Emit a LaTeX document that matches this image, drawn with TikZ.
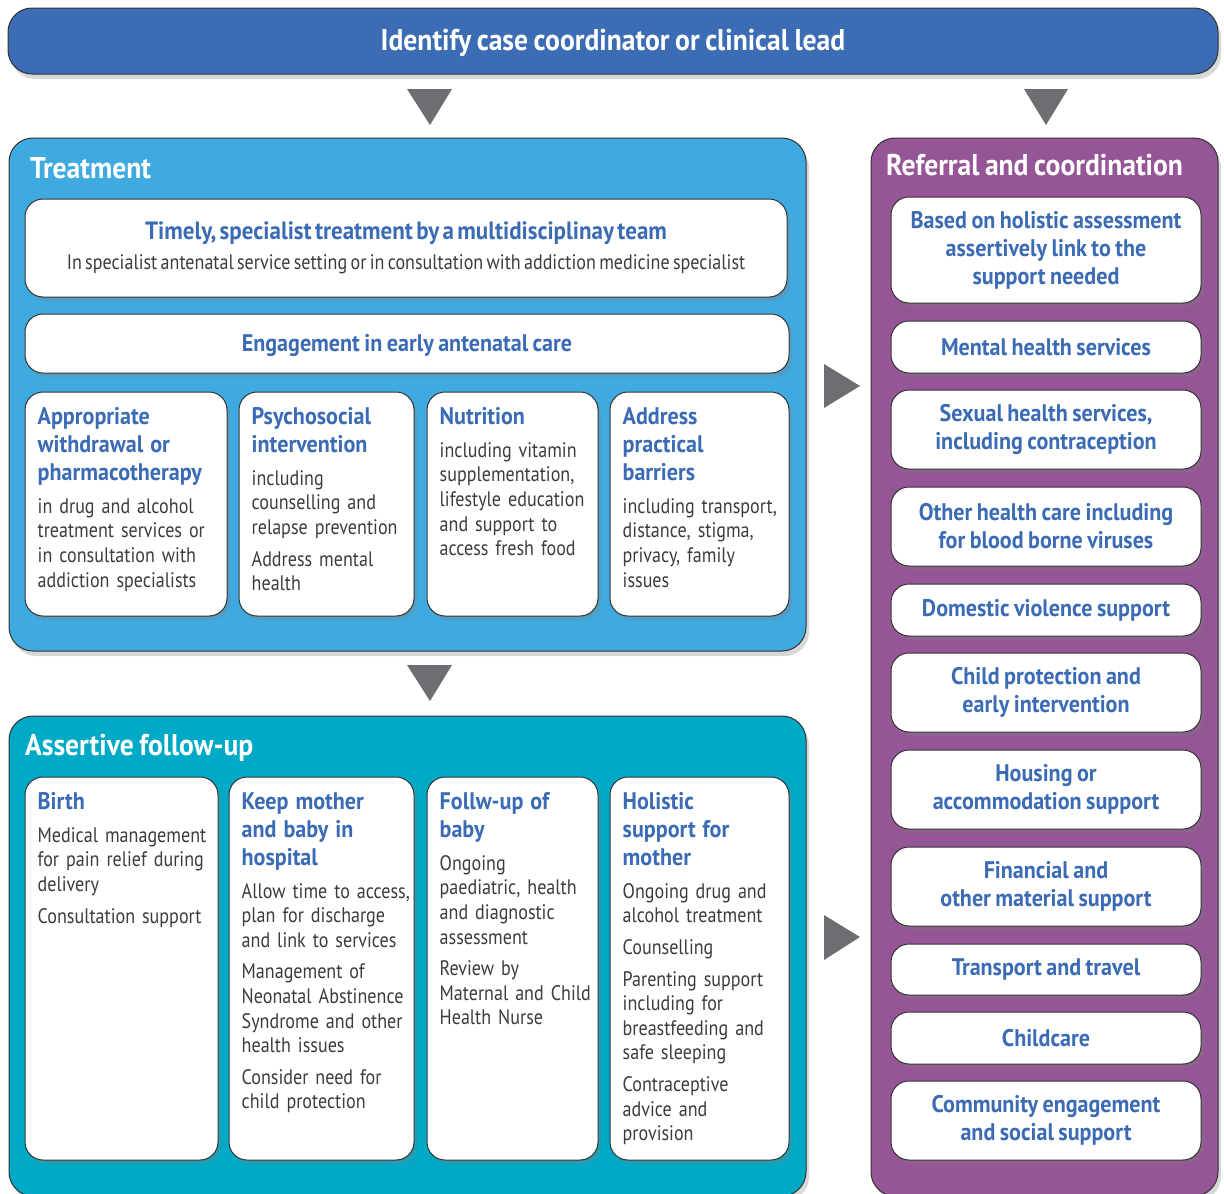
\documentclass[tikz,border=0pt]{standalone}
\usepackage{fontspec}
\setmainfont{PT Sans}[FakeStretch=0.86, WordSpace=0.62, BoldFeatures={FakeStretch=0.92, WordSpace=0.8}]
\usetikzlibrary{shadows}
\setlength{\parindent}{0pt}

\definecolor{leadblue}{RGB}{59,108,180}
\definecolor{treatblue}{RGB}{63,170,224}
\definecolor{followteal}{RGB}{0,170,198}
\definecolor{refpurple}{RGB}{149,85,150}
\definecolor{headblue}{RGB}{58,107,180}
\definecolor{bodygray}{RGB}{60,60,60}
\definecolor{arrowgray}{RGB}{109,110,113}

\newcommand{\titlefont}{\fontsize{30}{36}\selectfont\bfseries}
\newcommand{\headfont}{\fontsize{24}{28}\selectfont\bfseries}
\newcommand{\bodyfont}{\fontsize{21}{24.6}\selectfont}
\newcommand{\cardhead}[1]{{\color{headblue}\headfont #1\par}\vspace{8pt}}
\newcommand{\gap}{\par\vspace{7pt}}

\tikzset{
  panel/.style={draw=black!80, line width=1pt, rounded corners=24pt, inner sep=0pt,
    drop shadow={opacity=0.3, shadow xshift=3pt, shadow yshift=-5pt}},
  card/.style={draw=black!80, fill=white, line width=1pt, rounded corners=18pt, inner sep=0pt,
    drop shadow={opacity=0.3, shadow xshift=3pt, shadow yshift=-4pt}},
  refcard/.style={card, minimum width=310pt, align=center, font=\headfont, text=headblue},
  cardtext/.style={anchor=north west, inner sep=0pt, text width=#1, align=left,
    text=bodygray, font=\bodyfont},
  paneltitle/.style={anchor=west, inner sep=0pt, text=white, font=\titlefont},
  tri/.style={fill=arrowgray}
}

\begin{document}
\begin{tikzpicture}[x=1pt,y=-1pt]
  \useasboundingbox (0,0) rectangle (1224,1194);
  \fill[white] (0,0) rectangle (1224,1194);

  % lead bar
  \node [panel, fill=leadblue, minimum width=1210pt, minimum height=66pt] (lead) at (613,41) {};
  \node [text=white, font=\titlefont, inner sep=0pt] (lead-txt) at (613,43) {Identify case coordinator or clinical lead};

  % arrows
  \coordinate (down1) at (430,107);
  \coordinate (down2) at (1046,107);
  \coordinate (down3) at (430,683);
  \coordinate (right1) at (842,386);
  \coordinate (right2) at (842,937);
  \fill [tri, shift={(down1)}] (-23,-18) -- (22,-18) -- (0,18) -- cycle;
  \fill [tri, shift={(down2)}] (-22,-18) -- (22,-18) -- (0,18) -- cycle;
  \fill [tri, shift={(down3)}] (-23,-18) -- (22,-18) -- (0,18) -- cycle;
  \fill [tri, shift={(right1)}] (-18,-22) -- (-18,22) -- (18,0) -- cycle;
  \fill [tri, shift={(right2)}] (-18,-22) -- (-18,23) -- (18,0) -- cycle;

  % treatment
  \node [panel, fill=treatblue, minimum width=797pt, minimum height=513pt] (treat) at (407.5,394.5) {};
  \node [paneltitle] (treat-title) at (30,168) {Treatment};
  \node [card, minimum width=762pt, minimum height=98pt, text width=750pt, align=center] (timely) at (406,248)
    {{\color{headblue}\fontsize{25}{30}\selectfont\bfseries Timely, specialist treatment by a multidisciplinay team\par}\vspace{5pt}
     {\color{bodygray}\bodyfont In specialist antenatal service setting or in consultation with addiction medicine specialist\par}};
  \node [card, minimum width=764pt, minimum height=59pt] (early) at (407,343.5) {};
  \node [text=headblue, font=\headfont, inner sep=0pt] (early-txt) at (407,346) {Engagement in early antenatal care};

  \node [card, minimum width=202pt, minimum height=224pt] (tA) at (126,504) {};
  \node [card, minimum width=175pt, minimum height=224pt] (tB) at (326.5,504) {};
  \node [card, minimum width=171pt, minimum height=224pt] (tC) at (512.5,504) {};
  \node [card, minimum width=179pt, minimum height=224pt] (tD) at (699.5,504) {};
  \node [cardtext=185pt] (tA-txt) at ([xshift=13pt,yshift=-16pt]tA.north west)
    {\cardhead{Appropriate\\ withdrawal or\\ pharmacotherapy}in drug and alcohol\\ treatment services or\\ in consultation with\\ addiction specialists};
  \node [cardtext=160pt] (tB-txt) at ([xshift=13pt,yshift=-16pt]tB.north west)
    {\cardhead{Psychosocial\\ intervention}including\\ counselling and\\ relapse prevention\gap Address mental\\ health};
  \node [cardtext=158pt] (tC-txt) at ([xshift=13pt,yshift=-16pt]tC.north west)
    {\cardhead{Nutrition}including vitamin\\ supplementation,\\ lifestyle education\\ and support to\\ access fresh food};
  \node [cardtext=165pt] (tD-txt) at ([xshift=13pt,yshift=-16pt]tD.north west)
    {\cardhead{Address\\ practical\\ barriers}including transport,\\ distance, stigma,\\ privacy, family\\ issues};

  % assertive follow-up
  \node [panel, fill=followteal, minimum width=797pt, minimum height=480pt] (follow) at (407.5,956) {};
  \node [paneltitle] (follow-title) at (25,748) {Assertive follow-up};
  \node [card, minimum width=193pt, minimum height=383pt] (fA) at (121.5,968.5) {};
  \node [card, minimum width=185pt, minimum height=383pt] (fB) at (321.5,968.5) {};
  \node [card, minimum width=171pt, minimum height=383pt] (fC) at (512.5,968.5) {};
  \node [card, minimum width=179pt, minimum height=383pt] (fD) at (699.5,968.5) {};
  \node [cardtext=178pt] (fA-txt) at ([xshift=13pt,yshift=-16pt]fA.north west)
    {\cardhead{Birth}Medical management\\ for pain relief during\\ delivery\gap Consultation support};
  \node [cardtext=170pt] (fB-txt) at ([xshift=13pt,yshift=-16pt]fB.north west)
    {\cardhead{Keep mother\\ and baby in\\ hospital}Allow time to access,\\ plan for discharge\\ and link to services\gap Management of\\ Neonatal Abstinence\\ Syndrome and other\\ health issues\gap Consider need for\\ child protection};
  \node [cardtext=158pt] (fC-txt) at ([xshift=13pt,yshift=-16pt]fC.north west)
    {\cardhead{Follw-up of\\ baby}Ongoing\\ paediatric, health\\ and diagnostic\\ assessment\gap Review by\\ Maternal and Child\\ Health Nurse};
  \node [cardtext=165pt] (fD-txt) at ([xshift=13pt,yshift=-16pt]fD.north west)
    {\cardhead{Holistic\\ support for\\ mother}Ongoing drug and\\ alcohol treatment\gap Counselling\gap Parenting support\\ including for\\ breastfeeding and\\ safe sleeping\gap Contraceptive\\ advice and\\ provision};

  % referral and coordination
  \node [panel, fill=refpurple, minimum width=347pt, minimum height=1058pt] (refer) at (1044.5,667) {};
  \node [paneltitle] (refer-title) at (886,165) {Referral and coordination};
  \node [refcard, minimum height=106pt] (r1) at (1046,250) {Based on holistic assessment\\ assertively link to the\\ support needed};
  \node [refcard, minimum height=52pt] (r2) at (1046,347) {Mental health services};
  \node [refcard, minimum height=79pt] (r3) at (1046,429.5) {Sexual health services,\\ including contraception};
  \node [refcard, minimum height=79pt] (r4) at (1046,526.5) {Other health care including\\ for blood borne viruses};
  \node [refcard, minimum height=52pt] (r5) at (1046,610) {Domestic violence support};
  \node [refcard, minimum height=79pt] (r6) at (1046,692.5) {Child protection and\\ early intervention};
  \node [refcard, minimum height=79pt] (r7) at (1046,789.5) {Housing or\\ accommodation support};
  \node [refcard, minimum height=79pt] (r8) at (1046,886.5) {Financial and\\ other material support};
  \node [refcard, minimum height=51pt] (r9) at (1046,969.5) {Transport and travel};
  \node [refcard, minimum height=52pt] (r10) at (1046,1038) {Childcare};
  \node [refcard, minimum height=79pt] (r11) at (1046,1120.5) {Community engagement\\ and social support};
\end{tikzpicture}
\end{document}
